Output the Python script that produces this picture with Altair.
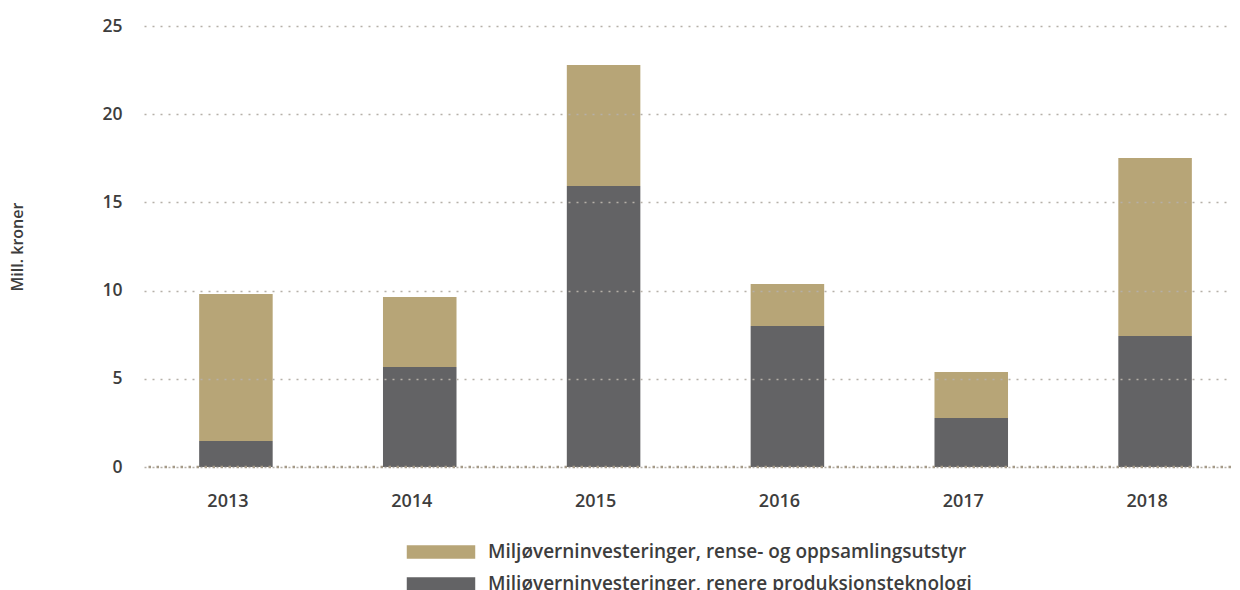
import altair as alt
import pandas as pd

years = ["2013", "2014", "2015", "2016", "2017", "2018"]
renere = [1.47, 5.67, 15.93, 7.99, 2.78, 7.43]
rense = [8.34, 3.97, 6.86, 2.38, 2.61, 10.09]
series_names = [
    "Miljøverninvesteringer, rense- og oppsamlingsutstyr",
    "Miljøverninvesteringer, renere produksjonsteknologi",
]
colors = ["#b7a577", "#636365"]

rows = []
for y, a, b in zip(years, renere, rense):
    rows.append({"year": y, "series": series_names[1], "value": a, "order": 0})
    rows.append({"year": y, "series": series_names[0], "value": b, "order": 1})
df = pd.DataFrame(rows)

FONT = "Open Sans"
TXT = "#3d3d3d"

y_axis = alt.Axis(title="Mill. kroner", values=[0, 5, 10, 15, 20, 25],
                  domain=False, ticks=False, zindex=1,
                  gridColor="#b5b0a8", gridDash=[2, 6], gridWidth=1.5,
                  labelFont=FONT, labelFontSize=17.5, labelFontWeight=600,
                  labelColor=TXT, labelPadding=22,
                  titleFont=FONT, titleFontSize=16, titleFontWeight=600,
                  titleColor=TXT, titlePadding=76)
y_scale = alt.Scale(domain=[0, 25], nice=False)

bars = alt.Chart(df).mark_bar().encode(
    x=alt.X("year:N", sort=years,
            scale=alt.Scale(paddingInner=0.6, paddingOuter=0.3),
            axis=alt.Axis(title=None, labelAngle=0, domain=False, ticks=False,
                          labelFont=FONT, labelFontSize=18, labelFontWeight=600,
                          labelColor=TXT, labelPadding=25, labelOffset=-8)),
    y=alt.Y("value:Q", stack="zero", scale=y_scale, axis=y_axis),
    color=alt.Color("series:N",
                    scale=alt.Scale(domain=series_names, range=colors),
                    legend=alt.Legend(title=None, orient="none", direction="vertical",
                                      legendX=283, legendY=512,
                                      symbolType="M-2.5,-0.5H2.5V0.5H-2.5Z",
                                      symbolSize=750, symbolStrokeWidth=0,
                                      symbolOpacity=1,
                                      labelFont=FONT, labelFontSize=19,
                                      labelFontWeight=600, labelColor=TXT,
                                      labelOffset=33, rowPadding=8,
                                      labelLimit=800)),
    order=alt.Order("order:Q"),
)

zero = alt.Chart(pd.DataFrame({"v": [0]})).mark_rule(
    color="#a59a88", strokeDash=[2.5, 5.5], strokeWidth=2.5
).encode(y=alt.Y("v:Q", scale=y_scale, axis=y_axis))

chart = alt.layer(bars, zero).properties(
    width=1103, height=441,
    autosize=alt.AutoSizeParams(type="none"),
    padding={"left": 136, "top": 18, "right": -15, "bottom": 123},
).configure(font=FONT).configure_view(strokeWidth=0, stroke="transparent")

chart.save("out.html", embed_options={"renderer": "svg", "actions": False})
